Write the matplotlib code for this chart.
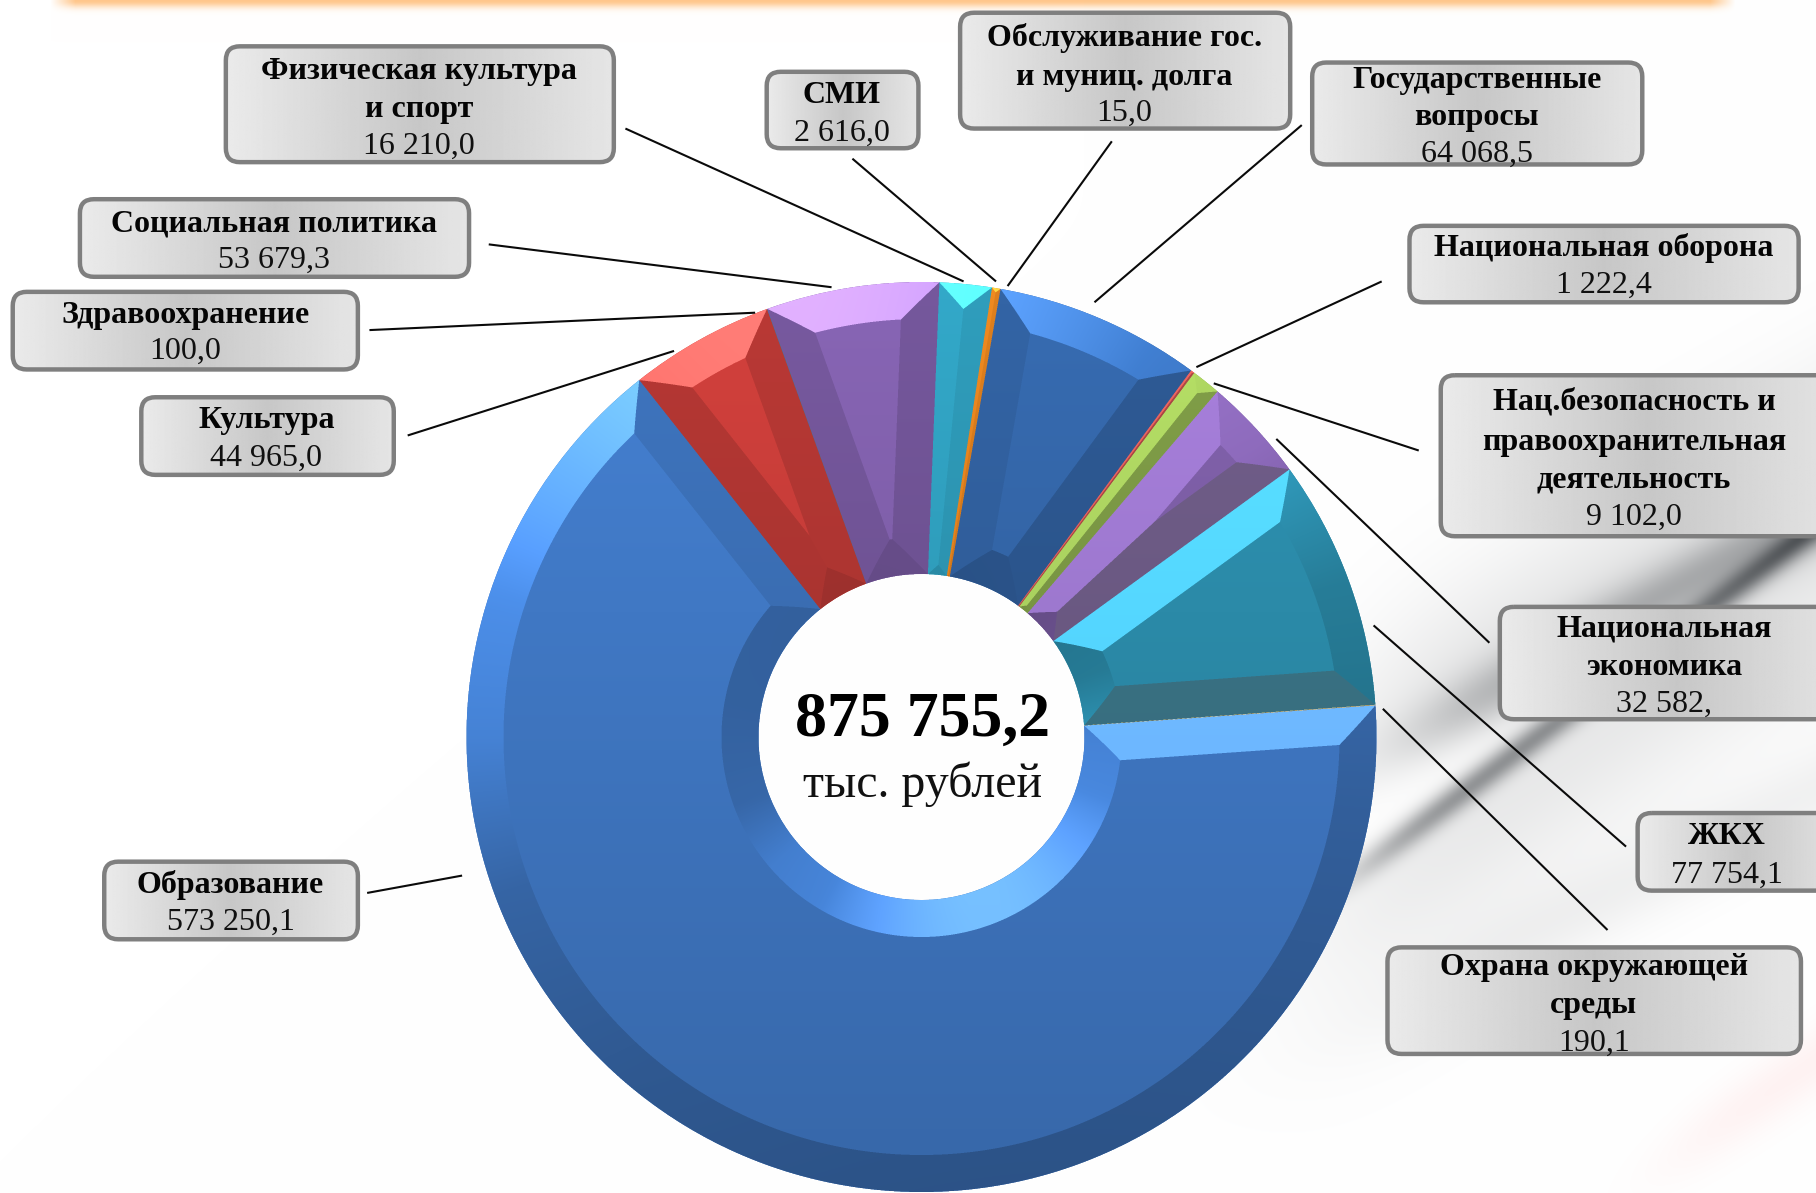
import numpy as np
import matplotlib
matplotlib.use("Agg")
import matplotlib.pyplot as plt
from matplotlib.patches import FancyBboxPatch

# ---------- data (clockwise from the start angle) ----------
categories = ["Государственные\nвопросы", "Национальная оборона",
              "Нац.безопасность и\nправоохранительная\nдеятельность",
              "Национальная\nэкономика", "ЖКХ", "Охрана окружающей\nсреды",
              "Образование", "Культура", "Здравоохранение", "Социальная политика",
              "Физическая культура\nи спорт", "СМИ", "Обслуживание гос.\nи муниц. долга"]
values = [64068.5, 1222.4, 9102.0, 32582.0, 77754.1, 190.1, 573250.1,
          44965.0, 100.0, 53679.3, 16210.0, 2616.0, 15.0]
value_labels = ["64 068,5", "1 222,4", "9 102,0", "32 582,", "77 754,1", "190,1",
                "573 250,1", "44 965,0", "100,0", "53 679,3", "16 210,0", "2 616,0", "15,0"]
total_label = "875 755,2"
unit_label = "тыс. рублей"
slice_colors = ["#3364a5", "#c0504d", "#8fb050", "#7a5ca2", "#2b8aa8", "#f79646",
                "#4078c4", "#c43c38", "#2c8dab", "#7e5ea8", "#33aacb", "#f08a20", "#f79646"]

# ---------- layout (positions in 1568-wide units, scaled to pixels) ----------
S = 1816 / 1568
W, H = 1816, 1193
cx, cy, R, Ri, BEV = 921.5, 737.0, 455.0, 163.0, 37.0
boxes = [(1133, 1418, 54, 142), (1217, 1553, 195, 261), (1244, 1600, 324, 463),
         (1295, 1600, 524, 621), (1414, 1600, 702, 769), (1198, 1555, 818, 910),
         (90, 309, 744, 811), (122, 340, 343, 410), (11, 309, 252, 319),
         (69, 405, 172, 239), (195, 530, 40, 140), (662, 793, 62, 128), (829, 1114, 11, 111)]
text_x = [1275, 1385, 1411, 1437, 1491, 1376, 199, 230, 160, 237, 362, 727, 971]
text_y = [[69.5, 101.5, 133.5], [214.5, 246.5], [347.5, 382.5, 414.5, 446.5], [543.5, 576.5, 608.5],
          [722.5, 755.5], [835.5, 868.5, 900.5], [764.5, 796.5], [363.5, 395.5], [272.5, 303.5],
          [193.5, 224.5], [61.5, 94.5, 126.5], [82.5, 115.5], [32.5, 66.5, 97.5]]
leaders = [((1124, 108), (945, 261)), ((1193, 243), (1033, 317)), ((1225, 389), (1048, 331)),
           ((1286, 555), (1102, 379)), ((1404, 731), (1186, 540)), ((1388, 803), (1194, 612)),
           ((317, 771), (399, 756)), ((352, 376), (582, 303)), ((319, 285), (652, 270)),
           ((422, 211), (718, 248)), ((540, 111), (832, 243)), ((736, 137), (860, 243)),
           ((960, 122), (870, 247))]
SERIF = "Liberation Serif"

fig = plt.figure(figsize=(W / 100, H / 100), dpi=100)
ax = fig.add_axes([0, 0, 1, 1])


def line_dist(xx, yy, p, q):
    ux, uy = (q[0] - p[0]), (q[1] - p[1])
    n = np.hypot(ux, uy)
    ux, uy = ux / n, uy / n
    return -(xx - p[0]) * uy + (yy - p[1]) * ux


def soft(v, w):
    return 1 / (1 + np.exp(-np.clip(v / w, -30, 30)))


def background():
    yy, xx = np.mgrid[0:H, 0:W].astype(float)
    img = np.ones((H, W, 3))
    d1 = line_dist(xx, yy, (1373, 859), (1553, 724))     # sharp lower stripe
    d2 = line_dist(xx, yy, (1540, 665), (1816, 512))     # soft upper stripe
    left1 = soft(xx - 1370, 30)
    left2 = soft(xx - 1430, 40)
    dark = 0.38 * np.exp(-(d1 / 14.0) ** 2) * left1
    dark += 0.27 * np.exp(-(d2 / 30.0) ** 2) * left2
    # haze above the upper stripe and below the lower one
    dark += 0.12 * soft(-d2, 18) * np.exp(-(np.minimum(d2, 0) / 110.0) ** 2) * soft(xx - 1360, 50)
    dark += 0.10 * soft(d1, 12) * np.exp(-(np.maximum(d1, 0) / 120.0) ** 2) * soft(xx - 1340, 50)
    d4 = line_dist(xx, yy, (1400, 1000), (1700, 850))
    dark += 0.05 * np.exp(-(d4 / 40.0) ** 2) * soft(xx - 1420, 50)
    tone = 1 - dark
    img[..., 0] = tone - 0.02 * dark
    img[..., 1] = tone
    img[..., 2] = tone + 0.02 * dark
    # orange glow along the top edge
    glow = np.exp(-(yy / 7.0) ** 2) * np.clip((xx - 50) / 25, 0, 1) * np.clip((1735 - xx) / 25, 0, 1)
    img[..., 1] -= 0.22 * glow
    img[..., 2] -= 0.45 * glow
    # pink trace lower right
    d3 = line_dist(xx, yy, (1620, 1190), (1816, 1060))
    pink = 0.05 * np.exp(-(d3 / 30.0) ** 2) * soft(xx - 1680, 30)
    img[..., 1] -= pink
    img[..., 2] -= pink
    return np.clip(img, 0, 1)


def rgb(c):
    return np.array(matplotlib.colors.to_rgb(c))


def bevel_layer(starts, ends):
    """Shaded facets of every slice, worked out from the slice angles."""
    ss = 3
    x0, x1, y0, y1 = int(cx - R - 4), int(cx + R + 4), int(cy - R - 4), H
    n_y, n_x = (y1 - y0) * ss, (x1 - x0) * ss
    xs = x0 + (np.arange(n_x) + 0.5) / ss
    ys = y0 + (np.arange(n_y) + 0.5) / ss
    X, Y = np.meshgrid(xs, ys)
    r = np.hypot(X - cx, Y - cy)
    th = np.rad2deg(np.arctan2(Y - cy, X - cx))
    out = np.zeros(X.shape + (4,), dtype=np.float32)
    L = np.array([-0.35, -0.94])
    grad = np.interp(Y, [281, 1191], [1.08, 0.86])
    band_s, band_f = [-1, -.5, 0, .35, .6, .85, 1], [.80, .83, .9, 1.12, 1.18, 1.32, 1.42]
    side_s, side_f = [-1, 0, .7, .85, 1], [.84, .88, .95, 1.2, 1.42]
    ring = (r >= Ri) & (r <= R)
    for a0, a1, col in zip(starts, ends, slice_colors):
        delta = (th - a0) % 360
        span = a1 - a0
        m = ring & (delta <= span)
        if not m.any():
            continue
        dl = delta[m]
        rr = r[m]
        t = np.deg2rad(th[m])
        d0 = np.where(dl < 90, rr * np.sin(np.deg2rad(dl)), np.inf)
        d1 = np.where(span - dl < 90, rr * np.sin(np.deg2rad(span - dl)), np.inf)
        stack = np.stack([R - rr, rr - Ri, d0, d1])
        k = stack.argmin(axis=0)
        face = stack.min(axis=0) >= BEV
        s_out = np.cos(t) * L[0] + np.sin(t) * L[1]
        f = np.ones(rr.shape)
        f[k == 0] = np.interp(s_out[k == 0], band_s, band_f)
        f[k == 1] = np.interp(-s_out[k == 1], band_s, band_f)
        ar0, ar1 = np.deg2rad(a0), np.deg2rad(a1)
        s0 = np.sin(ar0) * L[0] - np.cos(ar0) * L[1]
        s1 = -np.sin(ar1) * L[0] + np.cos(ar1) * L[1]
        f[k == 2] = np.interp(s0, side_s, side_f)
        f[k == 3] = np.interp(s1, side_s, side_f)
        f[face] = 1.0
        c = rgb(col)[None, :] * (f * grad[m])[:, None]
        c += (np.clip(f - 1.2, 0, None) * 0.6)[:, None]
        # sides turned fully away from the light read as a greyer tone
        if s1 < -0.9:
            g = c.mean(axis=1, keepdims=True)
            sel = (k == 3) & ~face
            c[sel] = (0.7 * c + 0.3 * (g + 0.04))[sel]
        out[m, 0:3] = np.clip(c, 0, 1)
        out[m, 3] = 1
    h, w = n_y // ss, n_x // ss
    block = out.reshape(h, ss, w, ss, 4)
    alpha = block[..., 3].mean(axis=(1, 3))
    colr = (block[..., :3] * block[..., 3:]).mean(axis=(1, 3)) / np.maximum(alpha, 1e-4)[..., None]
    return np.dstack([colr, alpha]), (x0, x1, y1, y0)


ax.imshow(background(), extent=(0, W, H, 0), zorder=0, interpolation="bilinear", aspect="auto")

# base ring from the data
wedges, _ = ax.pie(values, colors=slice_colors, startangle=-80, counterclock=True,
                   radius=R, center=(cx, cy), wedgeprops=dict(width=R - Ri, linewidth=0))
for w_ in wedges:
    w_.set_zorder(2)
starts = [w_.theta1 for w_ in wedges]
ends = [w_.theta2 for w_ in wedges]
layer, ext = bevel_layer(starts, ends)
ax.imshow(layer, extent=ext, zorder=3, interpolation="nearest", aspect="auto")

# leader lines
for (p, q) in leaders:
    ax.plot([p[0] * S, q[0] * S], [p[1] * S, q[1] * S], color="#0a0a0a", lw=1.5, zorder=4,
            solid_capstyle="butt")

# label boxes
gx = np.linspace(0, 1, 256)
grad_box = np.interp(gx, [0, 0.5, 1], [0.92, 0.78, 0.90])[None, :]
for (bx0, bx1, by0, by1) in boxes:
    bx0, bx1, by0, by1 = bx0 * S, bx1 * S, by0 * S, by1 * S
    pad = 14
    patch = FancyBboxPatch((bx0 + pad, by0 + pad), bx1 - bx0 - 2 * pad, by1 - by0 - 2 * pad,
                           boxstyle=f"round,pad={pad},rounding_size={pad}",
                           fc="none", ec="#7f7f7f", lw=3.2, zorder=6)
    ax.add_patch(patch)
    im = ax.imshow(grad_box, extent=(bx0, bx1, by1, by0), cmap="gray", vmin=0, vmax=1,
                   zorder=5, aspect="auto", interpolation="bilinear")
    im.set_clip_path(patch)

# label texts
FS = 23
for name, val, tx, tys in zip(categories, value_labels, text_x, text_y):
    lines = name.split("\n")
    for line, ty in zip(lines, tys):
        ax.text(tx * S, ty * S, line, family=SERIF, fontweight="bold", fontsize=FS,
                ha="center", va="center", color="#050505", zorder=7)
    ax.text(tx * S, tys[-1] * S, val, family=SERIF, fontsize=FS,
            ha="center", va="center", color="#101010", zorder=7)

# centre
ax.text(797 * S, 622 * S, total_label, family=SERIF, fontweight="bold", fontsize=46,
        ha="center", va="center", color="black", zorder=7)
ax.text(797 * S, 677 * S, unit_label, family=SERIF, fontsize=34.5,
        ha="center", va="center", color="#111111", zorder=7)

ax.set_xlim(0, W)
ax.set_ylim(H, 0)
ax.set_aspect("auto")
ax.axis("off")
fig.savefig("out.png", dpi=100)
